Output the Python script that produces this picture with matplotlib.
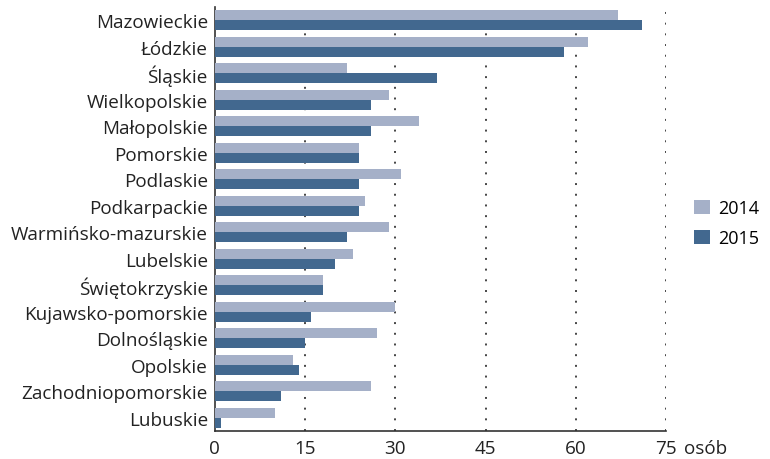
import numpy as np
import matplotlib.pyplot as plt

regions = ['Mazowieckie', 'Łódzkie', 'Śląskie', 'Wielkopolskie', 'Małopolskie',
           'Pomorskie', 'Podlaskie', 'Podkarpackie', 'Warmińsko-mazurskie',
           'Lubelskie', 'Świętokrzyskie', 'Kujawsko-pomorskie', 'Dolnośląskie',
           'Opolskie', 'Zachodniopomorskie', 'Lubuskie']
values_2014 = [67, 62, 22, 29, 34, 24, 31, 25, 29, 23, 18, 30, 27, 13, 26, 10]
values_2015 = [71, 58, 37, 26, 26, 24, 24, 24, 22, 20, 18, 16, 15, 14, 11, 1]
xticks = [0, 15, 30, 45, 60, 75]

plt.rcParams['font.family'] = ['Open Sans', 'DejaVu Sans']
fs = 13.6
tc = '#222222'

fig = plt.figure(figsize=(7.7, 4.6), dpi=100)
ax = fig.add_axes([0.279, 0.061, 0.586, 0.922])

y = np.arange(len(regions))
h = 0.38
ax.barh(y - h / 2, values_2014, height=h, color='#a5b0c8', label='2014', zorder=3)
ax.barh(y + h / 2, values_2015, height=h, color='#42688f', label='2015', zorder=3)

ax.set_ylim(len(regions) - 0.5, -0.5)
ax.set_xlim(0, 75)
ax.set_yticks(y)
ax.set_yticklabels(regions, fontsize=fs, color=tc)
ax.set_xticks(xticks)
ax.set_xticklabels([str(t) for t in xticks], fontsize=fs, color=tc)
ax.tick_params(length=0, pad=5)
ax.tick_params(axis='x', pad=6)

for t in xticks[1:]:
    ax.axvline(t, color='#444444', lw=1.4, linestyle=(0, (1, 4.5)), zorder=1)

for s in ['top', 'right']:
    ax.spines[s].set_visible(False)
for s in ['left', 'bottom']:
    ax.spines[s].set_color('#333333')
    ax.spines[s].set_linewidth(1.2)

# jednostka przy ostatnim znaczniku osi
ax.annotate('osób', xy=(75, 0), xycoords=('data', 'axes fraction'),
            xytext=(13, -6), textcoords='offset points', fontsize=fs,
            color=tc, ha='left', va='top')

ax.legend(loc='center left', bbox_to_anchor=(1.035, 0.49), frameon=False,
          fontsize=13, handlelength=0.85, handleheight=0.85, labelspacing=0.65,
          handletextpad=0.45, borderpad=0.2)

fig.savefig('out.png', dpi=100)
